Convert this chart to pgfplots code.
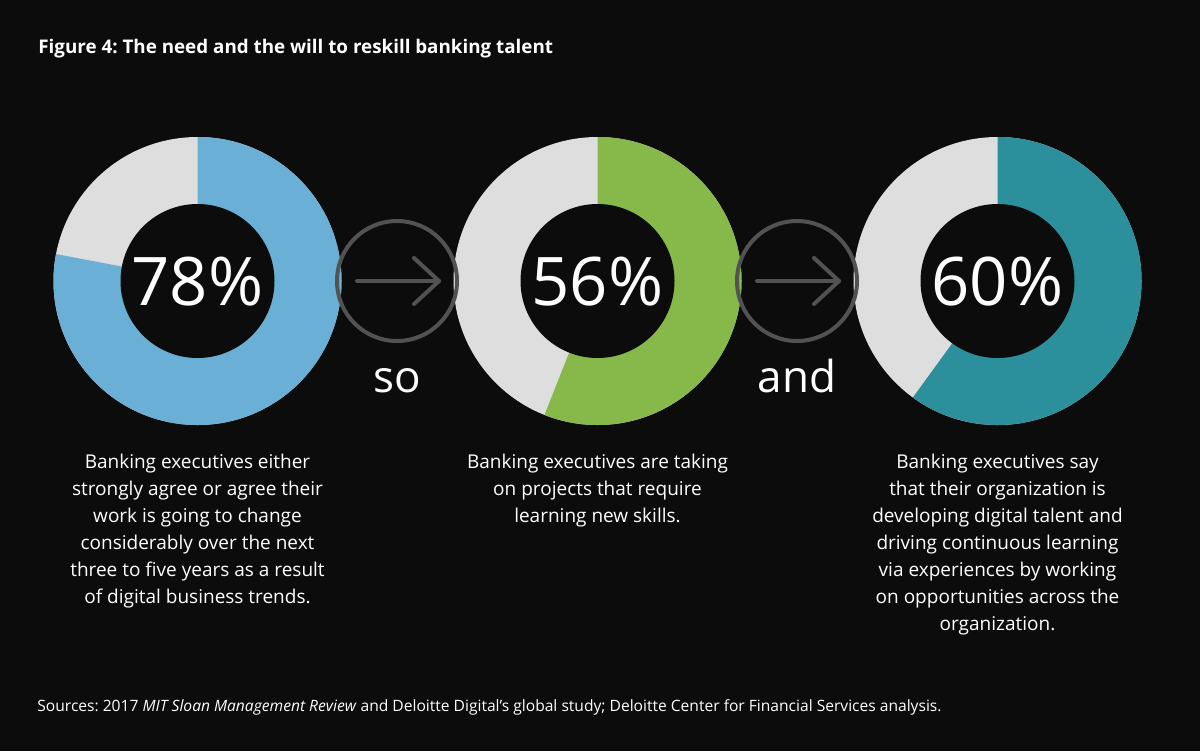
\documentclass[border=0pt]{standalone}
\usepackage{pgfplots}
\pgfplotsset{compat=1.18}
\usepackage{fontspec}
\setmainfont{Open Sans}
\frenchspacing
\definecolor{bg}{HTML}{0C0C0C}
\definecolor{cblue}{HTML}{6AAFD5}
\definecolor{cgreen}{HTML}{86B94A}
\definecolor{cteal}{HTML}{2B8F9C}
\definecolor{crest}{HTML}{DEDEDE}
\definecolor{cring}{HTML}{525252}
\begin{document}
\begin{tikzpicture}
\begin{axis}[
  hide axis, clip=false,
  x=0.5pt, y=0.5pt, y dir=reverse,
  xmin=0, xmax=1200, ymin=0, ymax=751,
]
% background
\fill[bg] (axis cs:0,0) rectangle (axis cs:1200,751);
% ---- donut 1: 78%
\fill[crest] (axis cs:197.5,281) circle[radius=72pt];
\fill[cblue] (axis cs:197.5,281) -- ++(90:72pt) arc[start angle=90, end angle={90-78*3.6}, radius=72pt] -- cycle;
\fill[bg] (axis cs:197.5,281) circle[radius=38.5pt];
% ---- donut 2: 56%
\fill[crest] (axis cs:597.5,281) circle[radius=72pt];
\fill[cgreen] (axis cs:597.5,281) -- ++(90:72pt) arc[start angle=90, end angle={90-56*3.6}, radius=72pt] -- cycle;
\fill[bg] (axis cs:597.5,281) circle[radius=38.5pt];
% ---- donut 3: 60%
\fill[crest] (axis cs:997.5,281) circle[radius=72pt];
\fill[cteal] (axis cs:997.5,281) -- ++(90:72pt) arc[start angle=90, end angle={90-60*3.6}, radius=72pt] -- cycle;
\fill[bg] (axis cs:997.5,281) circle[radius=38.5pt];
% ---- arrows
\draw[cring, line width=2pt] (axis cs:397,281) circle[radius=30pt];
\draw[cring, line width=2pt, line cap=round] (axis cs:357,281) -- (axis cs:439,281);
\draw[cring, line width=2pt, line cap=round, line join=round] (axis cs:414,258) -- (axis cs:439,281) -- (axis cs:414,304);
\draw[cring, line width=2pt] (axis cs:797,281) circle[radius=30pt];
\draw[cring, line width=2pt, line cap=round] (axis cs:757,281) -- (axis cs:839,281);
\draw[cring, line width=2pt, line cap=round, line join=round] (axis cs:814,258) -- (axis cs:839,281) -- (axis cs:814,304);
% ---- percentages
\node[anchor=base, text=white, inner sep=0pt, font=\fontsize{33.5}{36}\selectfont] at (axis cs:197.5,305) {78\%};
\node[anchor=base, text=white, inner sep=0pt, font=\fontsize{33.5}{36}\selectfont] at (axis cs:597.5,305) {56\%};
\node[anchor=base, text=white, inner sep=0pt, font=\fontsize{33.5}{36}\selectfont] at (axis cs:997.5,305) {60\%};
% ---- connectors
\node[anchor=base, text=white, inner sep=0pt, font=\fontsize{22}{24}\selectfont] at (axis cs:397,392) {so};
\node[anchor=base, text=white, inner sep=0pt, font=\fontsize{22}{24}\selectfont] at (axis cs:797,392) {and};
% ---- descriptions
\node[anchor=north, align=center, text=white, inner sep=0pt, font=\fontsize{9.5}{13.5}\selectfont] at (axis cs:197.5,453.5)
 {Banking executives either\\strongly agree or agree their\\work is going to change\\considerably over the next\\three to five years as a result\\of digital business trends.};
\node[anchor=north, align=center, text=white, inner sep=0pt, font=\fontsize{9.5}{13.5}\selectfont] at (axis cs:597.5,453.5)
 {Banking executives are taking\\on projects that require\\learning new skills.};
\node[anchor=north, align=center, text=white, inner sep=0pt, font=\fontsize{9.5}{13.5}\selectfont] at (axis cs:997.5,453.5)
 {Banking executives say\\that their organization is\\developing digital talent and\\driving continuous learning\\via experiences by working\\on opportunities across the\\organization.};
% ---- title and source
\node[anchor=base west, text=white, inner sep=0pt, font=\fontsize{9.4}{11}\selectfont\bfseries] at (axis cs:38,53)
 {Figure 4: The need and the will to reskill banking talent};
\node[anchor=base west, text=white, inner sep=0pt, font=\fontsize{7.8}{9}\selectfont] at (axis cs:37,711)
 {Sources: 2017 \textit{MIT Sloan Management Review} and Deloitte Digital’s global study; Deloitte Center for Financial Services analysis.};
\end{axis}
\end{tikzpicture}
\end{document}
